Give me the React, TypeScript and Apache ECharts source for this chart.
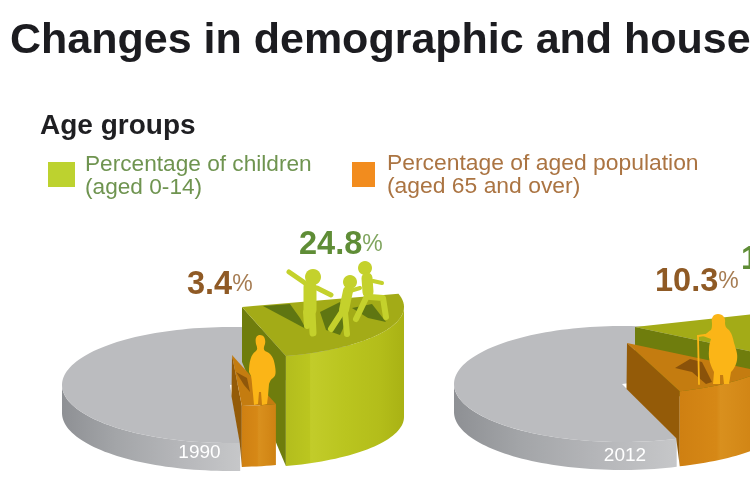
import React, { useEffect, useRef } from "react";
import * as echarts from "echarts";

const titleText = "Changes in demographic and house";
const sectionTitle = "Age groups";
const legendChildren = ["Percentage of children", "(aged 0-14)"];
const legendAged = ["Percentage of aged population", "(aged 65 and over)"];
const years = ["1990", "2012"];
const childrenPct = [24.8, 14.7];
const agedPct = [3.4, 10.3];

type Layout = { cx: number; cy: number; start: number; yearX: number; yearY: number;
  green: number[]; orange: number[] };
// Placement of each pie: [offsetX, offsetY, height] per raised wedge
const layouts: Layout[] = [
  { cx: 230, cy: 385, start: 75, yearX: 199.5, yearY: 451, green: [12, -78, 110], orange: [2, -30, 61] },
  { cx: 622, cy: 384, start: 71, yearX: 625, yearY: 454, green: [13, -57, 90], orange: [5, -41, 75] },
];

const RX = 168, RY = 58, DEPTH = 28;
const WEDGE_RX = 162, WEDGE_RY = 51;

const rad = (d: number) => (d * Math.PI) / 180;
const pt = (x: number, y: number, rx: number, ry: number, a: number) => [
  x + rx * Math.sin(rad(a)),
  y - ry * Math.cos(rad(a)),
];
const arc = (x: number, y: number, rx: number, ry: number, a0: number, a1: number) => {
  const out: number[][] = [];
  const n = Math.max(2, Math.ceil(Math.abs(a1 - a0) / 2));
  for (let i = 0; i <= n; i++) out.push(pt(x, y, rx, ry, a0 + ((a1 - a0) * i) / n));
  return out;
};
const grad = (stops: [number, string][]) => ({
  type: "linear", x: 0, y: 0, x2: 1, y2: 0,
  colorStops: stops.map(([offset, color]) => ({ offset, color })),
});
const poly = (points: number[][], fill: any) => ({
  type: "polygon", shape: { points }, style: { fill, stroke: "none" },
});

const palette: Record<string, { top: string; face: string; wall: any }> = {
  green: {
    top: "#a3ab17", face: "#6f7d0d",
    wall: grad([[0, "#b3bd1d"], [0.2, "#bbc61f"], [0.21, "#c2cc2a"], [0.5, "#bac51f"], [0.8, "#b3bd1a"], [1, "#a9b214"]]),
  },
  orange: {
    top: "#c47c10", face: "#945b08",
    wall: grad([[0, "#cf8012"], [0.45, "#d68816"], [0.5, "#d9901e"], [1, "#cf8212"]]),
  },
};

function slicesFor(i: number) {
  return [0, 1, 2].map((k) => [i, k, [100 - childrenPct[i] - agedPct[i], childrenPct[i], agedPct[i]][k]]);
}

function renderSlice(_params: any, api: any) {
  const year = api.value(0);
  const kind = api.value(1); // 0 rest, 1 children, 2 aged
  const L = layouts[year];
  const cSpan = (childrenPct[year] / 100) * 360;
  const aSpan = (agedPct[year] / 100) * 360;
  const a1c = L.start + cSpan;
  const a1a = a1c + aSpan;
  const grayEnd = pt(L.cx, L.cy, RX, RY, a1a);

  if (kind === 0) {
    const span = (api.value(2) / 100) * 360;
    const top = arc(L.cx, L.cy, RX, RY, a1a, a1a + span);
    const frontFrom = Math.max(a1a, 90);
    const wall = [
      ...arc(L.cx, L.cy, RX, RY, frontFrom, 270),
      ...arc(L.cx, L.cy + DEPTH, RX, RY, 270, frontFrom),
    ];
    return {
      type: "group",
      children: [
        poly(wall, {
          type: "linear", x: 1, y: 0, x2: 0, y2: 0,
          colorStops: [
            { offset: 0, color: "#c6c7c9" }, { offset: 0.35, color: "#b5b6b9" },
            { offset: 0.7, color: "#a3a5a8" }, { offset: 1, color: "#8e9094" },
          ],
        }),
        poly([[L.cx, L.cy], ...top], "#bbbcbf"),
      ],
    };
  }
  const p = kind === 1 ? palette.green : palette.orange;
  const [ox, oy, h] = kind === 1 ? L.green : L.orange;
  const a0 = kind === 1 ? L.start : a1c;
  const a1 = kind === 1 ? a1c : a1a;
  const X = L.cx + ox, Y = L.cy + oy;
  const end = pt(X, Y, WEDGE_RX, WEDGE_RY, a1);
  const wallFrom = Math.max(a0, 90);
  const wallTop = arc(X, Y, WEDGE_RX, WEDGE_RY, wallFrom, a1);
  const wallBottom = arc(X, Y + h, WEDGE_RX, WEDGE_RY, a1, wallFrom);
  const edgeT = (X - L.cx) / (grayEnd[0] - L.cx);
  const face =
    kind === 2
      ? [
          [X, Y], end, [end[0], end[1] + h],
          [Math.min(grayEnd[0], end[0]) - 0.5, grayEnd[1] - 0.5],
          [X - 0.5, L.cy + (grayEnd[1] - L.cy) * edgeT],
        ]
      : [[X, Y], end, [end[0], end[1] + h], [X, Y + h * 0.5]];
  return {
    type: "group",
    children: [
      poly(face, p.face),
      poly([...wallTop, ...wallBottom], p.wall),
      poly([[X, Y], ...arc(X, Y, WEDGE_RX, WEDGE_RY, a0, a1)], p.top),
    ],
  };
}

const Z = 20;
const SANS = "'Liberation Sans', Arial, sans-serif";
const CHILD = "#c4d12c";
const ELDER = "#fbb517";

const limb = (points: number[][], lineWidth: number, stroke: string) => ({
  type: "polyline", z: Z, shape: { points },
  style: { stroke, lineWidth, fill: "none", lineCap: "round", lineJoin: "round" },
});
const head = (cx: number, cy: number, r: number, fill: string) => ({
  type: "circle", z: Z, shape: { cx, cy, r }, style: { fill },
});
const shadow = (points: number[][], fill: string) => ({
  type: "polygon", z: Z - 1, shape: { points }, style: { fill },
});
const text = (x: number, y: number, t: string, size: number, fill: string, extra: any = {}, sx = 1) => ({
  type: "text", z: Z + 1, x, y, scaleX: sx,
  style: { text: t, fontSize: size, fill, fontFamily: SANS, verticalAlign: "middle", ...extra },
});
const pctLabel = (x: number, y: number, v: number, color: string) => ({
  type: "text", z: Z + 1, x, y,
  style: {
    text: `{n|${v.toFixed(1)}}{p|%}`,
    fontFamily: SANS,
    verticalAlign: "middle",
    rich: {
      n: { fontSize: 32.5, fontWeight: "bold", fill: color, fontFamily: SANS },
      p: { fontSize: 23, fill: color, fontFamily: SANS, opacity: 0.8 },
    },
  },
});

const MAN = "M260 335C264 335 266 339 265 344C264 347 263 349 265 351C271 353 274 358 275 366C276 372 276 376 273 378C271 379 270 381 269 384L268 396L267 404L262 405L261 392L259 392L258 404L254 405L253 394C252 386 252 380 251 376L249 372C249 362 251 354 256 351C258 349 257 347 256 344C255 339 256 335 260 335Z";
const WOMAN = "M718 314C723 314 726 318 725 323C725 326 726 328 729 330C733 335 733 340 735 346C736 350 738 354 737 360C736 366 733 370 731 372L729 384L724 384L723 375L720 375L720 384L713 384L714 372C711 366 708 360 709 350C709 345 710 342 711 339L703 336C706 334 709 331 711 330C712 328 712 326 712 323C711 318 713 314 718 314Z";

export default function App() {
  const ref = useRef<HTMLDivElement>(null);
  useEffect(() => {
    if (!ref.current) return;
    try { echarts.graphic.registerShape("manShape", echarts.graphic.extendPath(MAN, {})); } catch (e) {}
    try { echarts.graphic.registerShape("womanShape", echarts.graphic.extendPath(WOMAN, {})); } catch (e) {}
    const chart = echarts.init(ref.current, undefined, { renderer: "svg" });
    const BROWN = "#8f5a25";
    const GREEN = "#5f8d36";
    chart.setOption({
      animation: false,
      backgroundColor: "#ffffff",
      title: {
        text: titleText, left: 5, top: 11,
        textStyle: { fontFamily: SANS, fontSize: 43, fontWeight: "bold", color: "#1c1c20" },
      },
      series: [
        { type: "custom", coordinateSystem: "none", silent: true, renderItem: renderSlice, data: [...slicesFor(0), ...slicesFor(1)], encode: {} },
      ],
      graphic: [
        text(40, 124, sectionTitle, 28, "#1f1f22", { fontWeight: "bold" }),
        { type: "rect", z: Z, shape: { x: 48, y: 162, width: 27, height: 25 }, style: { fill: "#bdd22f" } },
        { type: "rect", z: Z, shape: { x: 352, y: 162, width: 23, height: 25 }, style: { fill: "#f28c1e" } },
        text(85, 164, legendChildren[0], 22, "#6f9450", {}, 1.03),
        text(85, 187, legendChildren[1], 22, "#6f9450", {}, 1.03),
        text(387, 163, legendAged[0], 22, "#ab7442", {}, 1.04),
        text(387, 186, legendAged[1], 22, "#ab7442", {}, 1.04),
        pctLabel(299, 243, childrenPct[0], GREEN),
        pctLabel(187, 283, agedPct[0], BROWN),
        pctLabel(655, 280, agedPct[1], BROWN),
        text(741, 258, String(childrenPct[1]).charAt(0), 32.5, GREEN, { fontWeight: "bold" }),
        text(layouts[0].yearX, layouts[0].yearY, years[0], 19, "#ffffff", { align: "center" }),
        text(layouts[1].yearX, layouts[1].yearY, years[1], 19, "#ffffff", { align: "center" }),
        // shadows on the raised wedges
        shadow([[263, 306], [290, 304], [300, 318], [306, 329], [293, 322]], "#5f7612"),
        shadow([[320, 312], [340, 302], [348, 318], [340, 335], [326, 330]], "#5f7612"),
        shadow([[352, 308], [372, 304], [386, 322], [368, 318]], "#5f7612"),
        shadow([[236, 372], [244, 385], [250, 392], [247, 378]], "#8f570a"),
        shadow([[675, 368], [690, 359], [702, 362], [712, 382], [706, 384], [692, 372]], "#8a520a"),
        // children
        head(313, 277, 8, CHILD),
        limb([[289, 272], [305, 283]], 5, CHILD),
        limb([[317, 288], [331, 295]], 5, CHILD),
        limb([[310, 287], [310, 310]], 13, CHILD),
        limb([[312, 312], [313, 333]], 7, CHILD),
        limb([[306, 312], [307, 326]], 6, CHILD),
        head(350, 282, 7, CHILD),
        limb([[348, 291], [344, 310]], 10, CHILD),
        limb([[342, 312], [331, 329]], 6, CHILD),
        limb([[345, 312], [347, 334]], 6, CHILD),
        limb([[350, 291], [360, 288]], 4, CHILD),
        head(365, 268, 7, CHILD),
        limb([[367, 278], [368, 292]], 11, CHILD),
        limb([[367, 296], [356, 319]], 6, CHILD),
        limb([[370, 297], [383, 298], [386, 317]], 6, CHILD),
        limb([[373, 281], [382, 283]], 4, CHILD),
        // elders
        { type: "manShape", z: Z, x: 0, y: 0, style: { fill: ELDER } },
        { type: "womanShape", z: Z, x: 0, y: 0, style: { fill: ELDER } },
        limb([[698, 336], [699, 384]], 1.8, ELDER),
        limb([[698, 336], [705, 335]], 2, ELDER),
      ],
    });
    return () => chart.dispose();
  }, []);
  return (
    <div
      ref={ref}
      style={{ position: "fixed", left: 0, top: 0, width: 750, height: 495, filter: "blur(0.6px)" }}
    />
  );
}
